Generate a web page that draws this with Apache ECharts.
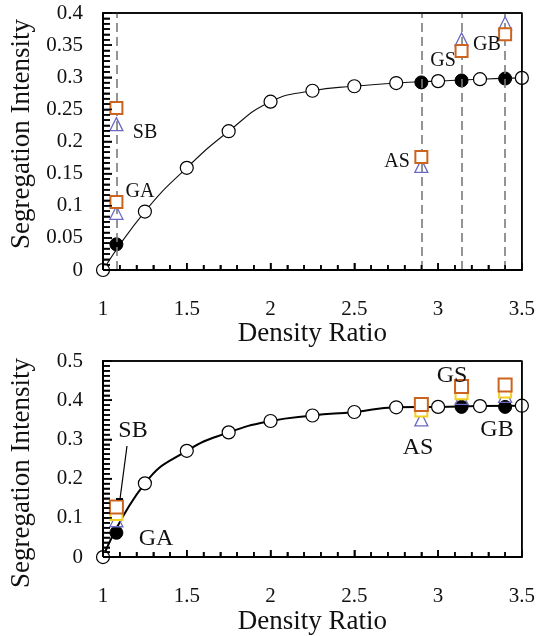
<!DOCTYPE html>
<html><head><meta charset="utf-8">
<script src="https://cdn.jsdelivr.net/npm/echarts@6/dist/echarts.min.js"></script>
<style>html,body{margin:0;padding:0;background:#fff}#c{width:538px;height:636px}</style>
</head><body><div id="c"></div>
<script>
// ---------- data ----------
const curveX = [1, 1.25, 1.5, 1.75, 2, 2.25, 2.5, 2.75, 3, 3.25, 3.5];
const topCurveY = [0, 0.091, 0.159, 0.216, 0.262, 0.279, 0.286, 0.291, 0.294, 0.297, 0.299];
const bottomCurveY = [0, 0.188, 0.271, 0.318, 0.347, 0.361, 0.370, 0.382, 0.383, 0.385, 0.386];

const caseNames = ['GA', 'SB', 'AS', 'GS', 'GB'];
const caseX = [1.08, 1.08, 2.9, 3.14, 3.4];
const topSquareY = [0.106, 0.252, 0.176, 0.341, 0.367];
const topTriangleY = [0.089, 0.227, 0.162, 0.359, 0.384];

const filledX = [1.08, 2.9, 3.14, 3.4];
const topFilledY = [0.04, 0.292, 0.295, 0.298];
const bottomFilledY = [0.062, 0.383, 0.383, 0.383];
const bottomSquareY = [0.128, 0.389, 0.435, 0.439];
const bottomYellowY = [0.11, 0.374, 0.418, 0.422];
const bottomTriangleY = [0.094, 0.351, 0.406, 0.411];

const dashX = [1.08, 2.9, 3.14, 3.4];

const xTicks = { min: 1, max: 3.5, interval: 0.5 };
const topYTicks = { min: 0, max: 0.4, interval: 0.05 };
const bottomYTicks = { min: 0, max: 0.5, interval: 0.1 };

// ---------- helpers ----------
const FONT = "'Liberation Serif','Times New Roman',serif";
const zip = (xs, ys) => xs.map((x, i) => [x, ys[i]]);

function xAxisCfg(gridIndex, margin, gap) {
  return {
    type: 'value', gridIndex, min: xTicks.min, max: xTicks.max, interval: xTicks.interval,
    name: 'Density Ratio', nameLocation: 'middle', nameGap: gap,
    nameTextStyle: { fontFamily: FONT, fontSize: 27, color: '#111' },
    axisLine: { show: true, onZero: false, lineStyle: { color: '#000', width: 2 } },
    axisTick: { show: true, inside: true, length: 7, lineStyle: { color: '#000', width: 1.5 } },
    minorTick: { show: true, splitNumber: 5, length: 5, lineStyle: { color: '#000', width: 1.5 } },
    axisLabel: { fontFamily: FONT, fontSize: 21, color: '#111', margin },
    splitLine: { show: false }
  };
}
function yAxisCfg(gridIndex, t, minorSplit) {
  return {
    type: 'value', gridIndex, min: t.min, max: t.max, interval: t.interval,
    axisLine: { show: true, onZero: false, lineStyle: { color: '#000', width: 2 } },
    axisTick: { show: true, inside: true, length: 9, lineStyle: { color: '#000', width: 1.5 } },
    minorTick: { show: true, splitNumber: minorSplit, length: 7, lineStyle: { color: '#000', width: 1.5 } },
    axisLabel: { fontFamily: FONT, fontSize: 21, color: '#111', margin: 20 },
    splitLine: { show: false }
  };
}
const openCircle = (idx, data, size) => ({
  type: 'scatter', xAxisIndex: idx, yAxisIndex: idx, data, symbol: 'circle', symbolSize: size,
  itemStyle: { color: '#fff', borderColor: '#000', borderWidth: 1.2, opacity: 1 }, z: 3
});
const filledCircle = (idx, data, size) => ({
  type: 'scatter', xAxisIndex: idx, yAxisIndex: idx, data, symbol: 'circle', symbolSize: size,
  itemStyle: { color: '#000', borderColor: '#000', borderWidth: 1, opacity: 1 }, z: 4
});
const squares = (idx, data, size, color) => ({
  type: 'scatter', xAxisIndex: idx, yAxisIndex: idx, data, symbol: 'rect', symbolSize: size,
  itemStyle: { color: '#fff', borderColor: color, borderWidth: 2, opacity: 1 }, z: 7
});
const triangles = (idx, data, size) => ({
  type: 'scatter', xAxisIndex: idx, yAxisIndex: idx, data, symbol: 'triangle', symbolSize: size,
  itemStyle: { color: 'rgba(255,255,255,0)', borderColor: '#6a6ac4', borderWidth: 1.3, opacity: 1 }, z: 6
});

const labelTxt = (text, x, y, size, rot) => ({
  type: 'text', x, y, z: 20, rotation: rot || 0, silent: true,
  style: { text, font: size + 'px ' + FONT, fill: '#111', align: 'center', verticalAlign: 'middle' }
});

const baseGraphic = [
  labelTxt('Segregation Intensity', 22, 134, 27, Math.PI / 2),
  labelTxt('Segregation Intensity', 22, 473, 27, Math.PI / 2),
  labelTxt(caseNames[1], 145, 133, 20),
  labelTxt(caseNames[0], 140, 192, 20),
  labelTxt(caseNames[2], 397, 162, 20),
  labelTxt(caseNames[3], 443, 61, 20),
  labelTxt(caseNames[4], 487, 45, 20),
  labelTxt(caseNames[1], 133, 431, 24),
  labelTxt(caseNames[0], 156, 539, 24),
  labelTxt(caseNames[2], 418, 448, 24),
  labelTxt(caseNames[3], 452, 376, 24),
  labelTxt(caseNames[4], 497, 430, 24),
  { type: 'line', z: 20, silent: true, shape: { x1: 127, y1: 446, x2: 120, y2: 499 }, style: { stroke: '#000', lineWidth: 1.2 } },
  { type: 'line', z: 20, silent: true, shape: { x1: 116, y1: 499, x2: 123, y2: 499 }, style: { stroke: '#000', lineWidth: 2 } }
];

const option = {
  animation: false,
  grid: [
    { left: 103, top: 13, width: 423, height: 257, show: true, borderColor: '#000', borderWidth: 1.5 },
    { left: 103, top: 361, width: 421, height: 199, show: true, borderColor: '#000', borderWidth: 1.5 }
  ],
  xAxis: [xAxisCfg(0, 29, 38), xAxisCfg(1, 29, 44)],
  yAxis: [yAxisCfg(0, topYTicks, 6), yAxisCfg(1, bottomYTicks, 8)],
  series: [
    {
      type: 'line', xAxisIndex: 0, yAxisIndex: 0, data: zip(curveX, topCurveY), smooth: true,
      symbol: 'none', lineStyle: { color: '#111', width: 1.1 }, z: 2,
      markLine: {
        silent: true, symbol: ['none', 'none'], label: { show: false },
        lineStyle: { type: [9, 5], color: '#7a7a7a', width: 1.6 },
        data: dashX.map(x => ({ xAxis: x }))
      }
    },
    openCircle(0, zip(curveX, topCurveY), 13),
    filledCircle(0, zip(filledX, topFilledY), 13),
    triangles(0, zip(caseX, topTriangleY), [13, 13]),
    squares(0, zip(caseX, topSquareY), 12, '#cc6420'),

    {
      type: 'line', xAxisIndex: 1, yAxisIndex: 1, data: zip(curveX, bottomCurveY), smooth: true,
      symbol: 'none', lineStyle: { color: '#000', width: 2 }, z: 2
    },
    openCircle(1, zip(curveX, bottomCurveY), 13),
    filledCircle(1, zip(filledX, bottomFilledY), 13),
    squares(1, zip(filledX, bottomYellowY), 12, '#f0d020'),
    triangles(1, zip(filledX, bottomTriangleY), [13, 13]),
    squares(1, zip(filledX, bottomSquareY), 13, '#cc6420')
  ],
  graphic: baseGraphic
};
const chart = echarts.init(document.getElementById('c'), null, { renderer: 'canvas' });
chart.setOption(option);

// Frame and ticks placed through the library's own scales, drawn on top so they always show
const pix = (gi, x, y) => chart.convertToPixel({ gridIndex: gi }, [x, y]);
const frame = [];
const seg = (x1, y1, x2, y2, w) => frame.push({ type: 'line', z: 30, silent: true, shape: { x1, y1, x2, y2 }, style: { stroke: '#000', lineWidth: w } });
[[0, topYTicks, 6], [1, bottomYTicks, 8]].forEach(([gi, yt, ySplit]) => {
  const p0 = pix(gi, xTicks.min, yt.min), p1 = pix(gi, xTicks.max, yt.max);
  const L = p0[0], B = p0[1], R = p1[0], T = p1[1];
  seg(L, T, R, T, 1.5); seg(R, T, R, B, 1.5);
  seg(L, T, L, B, 2); seg(L, B, R, B, 2);
  const nx = Math.round((xTicks.max - xTicks.min) / xTicks.interval);
  for (let i = 0; i <= nx; i++) {
    for (let k = 0; k < 5; k++) {
      if (i === nx && k > 0) break;
      const v = xTicks.min + i * xTicks.interval + k * xTicks.interval / 5;
      const px = pix(gi, v, yt.min)[0];
      seg(px, B, px, B - (k === 0 ? 7 : 5), 1.5);
    }
  }
  const ny = Math.round((yt.max - yt.min) / yt.interval);
  for (let i = 0; i <= ny; i++) {
    for (let k = 0; k < ySplit; k++) {
      if (i === ny && k > 0) break;
      const v = yt.min + i * yt.interval + k * yt.interval / ySplit;
      const py = pix(gi, xTicks.min, v)[1];
      seg(L, py, L + (k === 0 ? 9 : 7), py, 1.5);
    }
  }
});
chart.setOption({ graphic: baseGraphic.concat(frame) });
</script>
</body></html>
